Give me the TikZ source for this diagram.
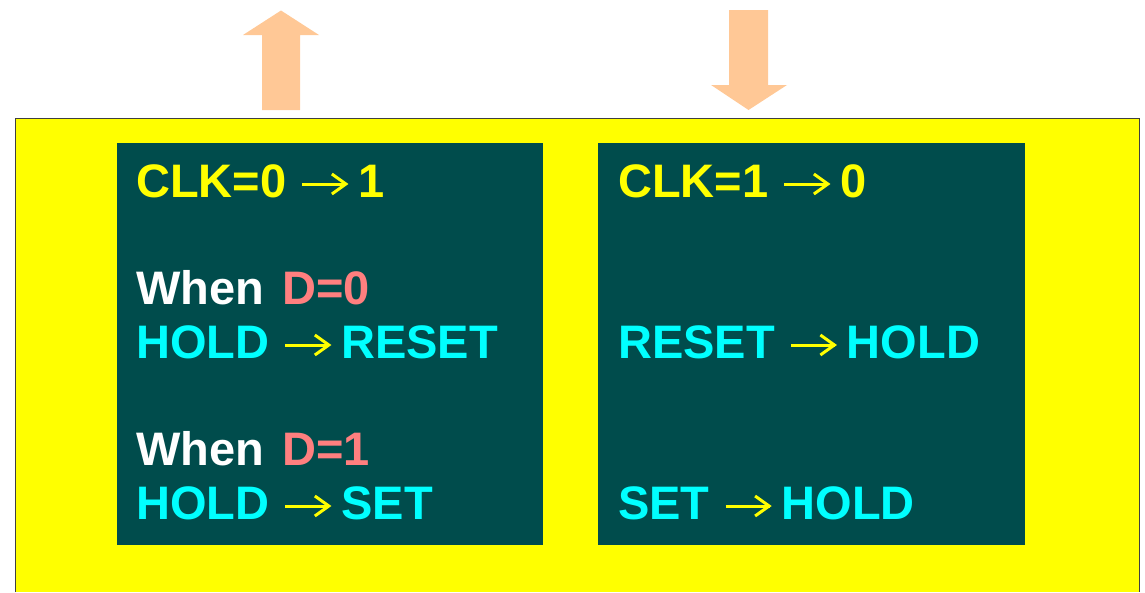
\documentclass[tikz,border=0pt]{standalone}
\usepackage{fontspec}
\setmainfont{Liberation Sans}
\definecolor{panel}{HTML}{004C4C}
\definecolor{peach}{HTML}{FFC896}
\definecolor{salmon}{HTML}{FF7F7F}
\definecolor{yel}{HTML}{FFFF00}
\definecolor{cyn}{HTML}{00FFFF}
\newcommand{\rarr}{\hspace{16pt}\tikz[baseline=0pt,x=1pt,y=1pt]{%
  \useasboundingbox (0,0) rectangle (46,20);
  \draw[yel,line width=3pt] (0,13) -- (44,13);
  \draw[yel,line width=3pt,line join=miter] (29.5,23) -- (43.5,13) -- (29.5,3);}\hspace{10pt}}
\begin{document}
\begin{tikzpicture}[x=1pt,y=-1pt,
  txt/.style={anchor=base west, inner sep=0pt, font=\fontsize{47}{50}\selectfont\bfseries},
  box/.style={fill=panel, draw=none},
  bigarrow/.style={fill=peach, draw=none}]
\useasboundingbox (0,0) rectangle (1145,592);
% yellow background
\fill[yel] (15.5,118.5) rectangle (1139.5,592);
\draw[line width=1.2pt, black!75] (15.5,592) -- (15.5,118.5) -- (1139.5,118.5) -- (1139.5,592);
% arrows
\fill[bigarrow] (262,110) -- (262,35) -- (243,35) -- (281,10.5) -- (319,35) -- (300,35) -- (300,110) -- cycle;
\fill[bigarrow] (729,10) -- (768,10) -- (768,85) -- (787,85) -- (748.5,110) -- (711,85) -- (729,85) -- cycle;
% panels
\node[box, minimum width=426pt, minimum height=402pt, anchor=north west, inner sep=0pt] (L) at (117,143) {};
\node[box, minimum width=427pt, minimum height=402pt, anchor=north west, inner sep=0pt] (R) at (598,143) {};
% left texts
\node[txt, text=yel] (l1) at (136,197) {CLK=0\rarr 1};
\node[txt, text=white] (l2) at (136,304) {When\hspace{18pt}\textcolor{salmon}{D=0}};
\node[txt, text=cyn] (l3) at (136,358) {HOLD\rarr RESET};
\node[txt, text=white] (l4) at (136,465) {When\hspace{18pt}\textcolor{salmon}{D=1}};
\node[txt, text=cyn] (l5) at (136,519) {HOLD\rarr SET};
% right texts
\node[txt, text=yel] (r1) at (618,197) {CLK=1\rarr 0};
\node[txt, text=cyn] (r2) at (618,358) {RESET\rarr HOLD};
\node[txt, text=cyn] (r3) at (618,519) {SET\rarr HOLD};
\end{tikzpicture}
\end{document}
